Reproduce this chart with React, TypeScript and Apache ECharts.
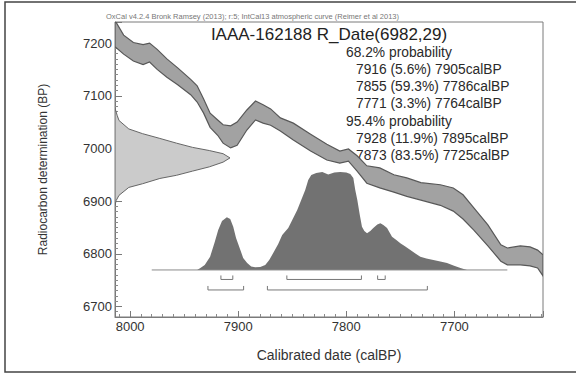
import React, { useEffect, useRef } from 'react';
import * as echarts from 'echarts';

// Calibration curve (IntCal13) band
const calDates = [8014, 8006, 7997, 7988, 7982, 7975, 7966, 7956, 7944, 7938, 7932, 7926, 7919, 7914, 7907, 7901, 7892, 7884, 7877, 7870, 7861, 7849, 7833, 7818, 7806, 7798, 7790, 7781, 7769, 7756, 7744, 7731, 7713, 7701, 7692, 7682, 7669, 7657, 7651, 7639, 7630, 7623, 7618];
const curveHigh = [7243, 7215, 7201, 7197, 7200, 7188, 7170, 7153, 7131, 7119, 7094, 7067, 7054, 7045, 7043, 7050, 7073, 7090, 7083, 7075, 7058, 7048, 7027, 7008, 6995, 6999, 6986, 6967, 6963, 6950, 6944, 6935, 6931, 6925, 6912, 6887, 6855, 6817, 6811, 6815, 6813, 6807, 6798];
const curveLow = [7193, 7179, 7166, 7159, 7164, 7150, 7135, 7121, 7102, 7088, 7067, 7040, 7025, 7010, 7001, 7006, 7035, 7054, 7048, 7044, 7033, 7016, 6995, 6978, 6972, 6976, 6957, 6934, 6925, 6917, 6909, 6902, 6892, 6881, 6866, 6845, 6815, 6786, 6779, 6779, 6777, 6773, 6758];

// Radiocarbon determination distribution (BP vs relative probability)
const c14Values = [7076, 7062, 7053, 7037, 7028, 7019, 7010, 7002, 6996, 6990, 6982, 6974, 6965, 6957, 6949, 6943, 6933, 6926, 6911, 6901, 6892];
const c14Prob = [0, 0.02, 0.035, 0.12, 0.24, 0.39, 0.535, 0.675, 0.82, 0.94, 1, 0.94, 0.82, 0.675, 0.535, 0.39, 0.24, 0.12, 0.035, 0.01, 0];

// Calibrated (posterior) distribution
const postDates = [7938, 7935, 7931, 7926, 7922, 7918.5, 7915, 7910.5, 7907.4, 7904.6, 7902, 7898, 7895.4, 7891.7, 7888, 7884.3, 7879.6, 7875, 7871.3, 7867.6, 7863, 7859.3, 7853.7, 7850, 7845.4, 7841.7, 7838, 7835.2, 7832.4, 7827.8, 7822.2, 7816.7, 7811.1, 7805.6, 7800, 7796.3, 7793.5, 7791.7, 7789.8, 7787.5, 7785.5, 7783.3, 7780.8, 7777.8, 7775, 7771.3, 7768.5, 7765.7, 7762.3, 7760.2, 7757.7, 7753.7, 7750, 7745.4, 7740.7, 7736.1, 7731.5, 7725.9, 7719.4, 7713, 7706.8, 7700.9, 7694.4, 7688.3];
const postProb = [0, 0.02, 0.05, 0.135, 0.276, 0.408, 0.5, 0.538, 0.52, 0.44, 0.327, 0.204, 0.122, 0.071, 0.036, 0.028, 0.031, 0.051, 0.102, 0.173, 0.265, 0.357, 0.429, 0.51, 0.612, 0.714, 0.816, 0.918, 0.969, 0.99, 1, 0.974, 0.995, 1, 0.995, 0.98, 0.939, 0.816, 0.714, 0.561, 0.442, 0.398, 0.374, 0.398, 0.429, 0.464, 0.476, 0.459, 0.429, 0.388, 0.34, 0.306, 0.272, 0.24, 0.204, 0.168, 0.135, 0.117, 0.102, 0.087, 0.071, 0.046, 0.02, 0];
const baselineRange = [7980, 7651];

// Ranges
const range68Start = [7916, 7855, 7771];
const range68End = [7905, 7786, 7764];
const range68Pct = ['5.6', '59.3', '3.3'];
const range95Start = [7928, 7873];
const range95End = [7895, 7725];
const range95Pct = ['11.9', '83.5'];

const headerText = 'OxCal v4.2.4 Bronk Ramsey (2013); r:5; IntCal13 atmospheric curve (Reimer et al 2013)';
const titleText = 'IAAA-162188 R_Date(6982,29)';

export default function App() {
  const ref = useRef<HTMLDivElement>(null);
  useEffect(() => {
    const chart = echarts.init(ref.current!, null, { renderer: 'svg' });
    const font = "'Liberation Sans', Arial, sans-serif";

    const lines: { text: string; indent: boolean }[] = [];
    lines.push({ text: '68.2% probability', indent: false });
    range68Start.forEach((s, i) => lines.push({ text: `${s} (${range68Pct[i]}%) ${range68End[i]}calBP`, indent: true }));
    lines.push({ text: '95.4% probability', indent: false });
    range95Start.forEach((s, i) => lines.push({ text: `${s} (${range95Pct[i]}%) ${range95End[i]}calBP`, indent: true }));

    const rangeData: number[][] = [];
    range68Start.forEach((s, i) => rangeData.push([s, range68End[i], 0]));
    range95Start.forEach((s, i) => rangeData.push([s, range95End[i], 1]));

    const plain = (v: number) => String(v);

    const option: any = {
      animation: false,
      backgroundColor: '#fff',
      textStyle: { fontFamily: font },
      grid: { left: 115, right: 33, top: 22, bottom: 59, show: true, borderColor: '#7a7a7a', borderWidth: 1, backgroundColor: 'transparent' },
      xAxis: [
        {
          type: 'value', min: 7618, max: 8014, inverse: true, position: 'bottom',
          axisLine: { show: true, onZero: false, lineStyle: { color: '#7a7a7a', width: 1 } },
          axisTick: { show: true, inside: true, length: 6, lineStyle: { color: '#7a7a7a' } },
          minorTick: { show: true, splitNumber: 10, length: 3, lineStyle: { color: '#8a8a8a' } },
          axisLabel: { fontSize: 13, color: '#333', margin: 3, showMinLabel: false, showMaxLabel: false, formatter: plain },
          splitLine: { show: false },
          name: 'Calibrated date (calBP)', nameLocation: 'middle', nameGap: 31,
          nameTextStyle: { fontSize: 14, color: '#333' },
        },
        { type: 'value', min: 0, max: 3.722, show: false, gridIndex: 0, axisLine: { onZero: false } },
      ],
      yAxis: [
        {
          type: 'value', min: 6680, max: 7240,
          axisLine: { show: true, onZero: false, lineStyle: { color: '#7a7a7a', width: 1 } },
          axisTick: { show: true, inside: true, length: 7, lineStyle: { color: '#7a7a7a' } },
          minorTick: { show: true, splitNumber: 10, length: 3, lineStyle: { color: '#8a8a8a' } },
          axisLabel: { fontSize: 13, color: '#333', margin: 3, showMinLabel: false, showMaxLabel: false, formatter: plain },
          splitLine: { show: false },
          name: 'Radiocarbon determination (BP)', nameLocation: 'middle', nameGap: 66,
          nameTextStyle: { fontSize: 12, color: '#333' },
        },
        { type: 'value', min: -0.48, max: 2.53, show: false, gridIndex: 0, axisLine: { onZero: false } },
      ],
      series: [
        {
          type: 'custom', name: 'curve', xAxisIndex: 0, yAxisIndex: 0, clip: true, z: 2,
          data: [[calDates[0], curveHigh[0]]],
          renderItem: (params: any, api: any) => {
            const pts: number[][] = [];
            for (let i = 0; i < calDates.length; i++) pts.push(api.coord([calDates[i], curveHigh[i]]));
            for (let i = calDates.length - 1; i >= 0; i--) pts.push(api.coord([calDates[i], curveLow[i]]));
            return { type: 'polygon', shape: { points: pts }, style: { fill: '#a2a2a2', stroke: '#585858', lineWidth: 1.2 } };
          },
        },
        {
          type: 'custom', name: 'c14', xAxisIndex: 1, yAxisIndex: 0, clip: true, z: 2,
          data: [[c14Prob[10], c14Values[10]]],
          renderItem: (params: any, api: any) => {
            const pts: number[][] = [];
            for (let i = 0; i < c14Values.length; i++) pts.push(api.coord([c14Prob[i], c14Values[i]]));
            return { type: 'polygon', shape: { points: pts }, style: { fill: '#cbcbcb', stroke: '#666', lineWidth: 1 } };
          },
        },
        {
          type: 'line', name: 'posterior', xAxisIndex: 0, yAxisIndex: 1, z: 3,
          symbol: 'none', lineStyle: { width: 0 },
          areaStyle: { color: '#727272', opacity: 1 },
          data: postDates.map((d, i) => [d, postProb[i]]),
        },
        {
          type: 'line', name: 'baseline', xAxisIndex: 0, yAxisIndex: 1, z: 3,
          symbol: 'none', lineStyle: { width: 1, color: '#8a8a8a' },
          data: baselineRange.map((d) => [d, 0]),
        },
        {
          type: 'custom', name: 'ranges', xAxisIndex: 0, yAxisIndex: 1, z: 3,
          data: rangeData,
          renderItem: (params: any, api: any) => {
            const a = api.coord([api.value(0), 0]);
            const b = api.coord([api.value(1), 0]);
            const yh = a[1] + (api.value(2) === 0 ? 9.5 : 20);
            const yl = yh - 4;
            return {
              type: 'polyline',
              shape: { points: [[a[0], yl], [a[0], yh], [b[0], yh], [b[0], yl]] },
              style: { stroke: '#777', lineWidth: 1, fill: null },
            };
          },
        },
      ],
      graphic: [
        { type: 'rect', shape: { x: 5, y: 2, width: 580, height: 370 }, style: { fill: 'none', stroke: '#444', lineWidth: 1.5 }, silent: true },
        { type: 'text', x: 106, y: 16, style: { text: headerText, fontSize: 7.5, fontFamily: font, fill: '#777', align: 'left', verticalAlign: 'middle' } },
        { type: 'text', x: 329, y: 34.5, style: { text: titleText, fontSize: 17, fontFamily: font, fill: '#222', align: 'center', verticalAlign: 'middle' } },
        ...lines.map((l, i) => ({
          type: 'text', x: l.indent ? 356 : 346, y: 52 + i * 17.3,
          style: { text: l.text, fontSize: 13.8, fontFamily: font, fill: '#2a2a2a', align: 'left', verticalAlign: 'middle' },
        })),
      ],
    };
    chart.setOption(option);
    return () => chart.dispose();
  }, []);
  return <div ref={ref} style={{ position: 'fixed', left: 0, top: 0, width: 576, height: 376, background: '#fff' }} />;
}
